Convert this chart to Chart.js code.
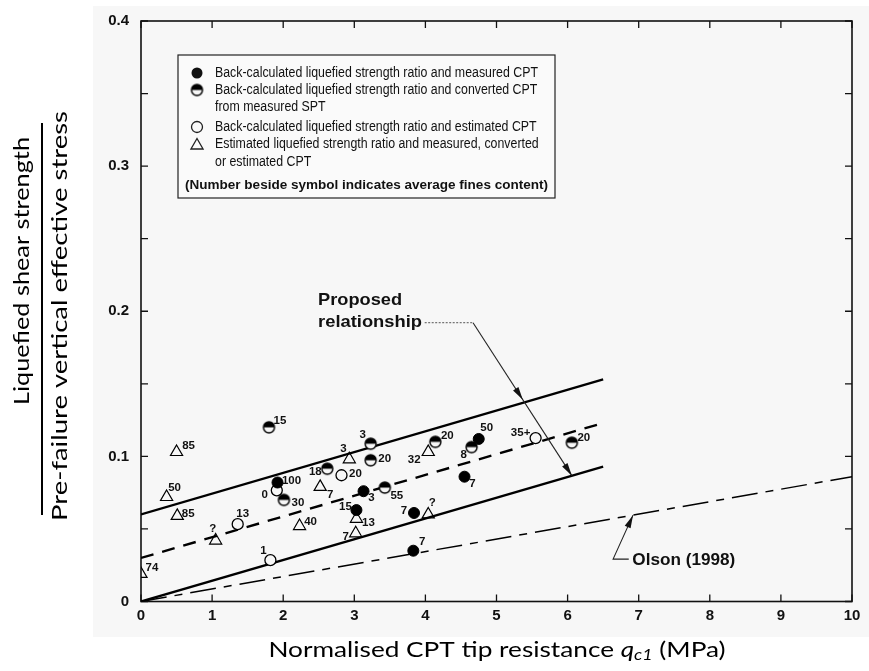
<!DOCTYPE html>
<html>
<head>
<meta charset="utf-8">
<script src="https://cdn.jsdelivr.net/npm/chart.js@4.4.1/dist/chart.umd.min.js"></script>
<style>
html,body{margin:0;padding:0;background:#fff;}
#wrap{width:869px;height:671px;position:relative;}
</style>
</head>
<body>
<div id="wrap"><canvas id="c" width="869" height="671"></canvas></div>
<script>
// ---------------- DATA ----------------
// Back-calculated liquefied strength ratio and measured CPT (filled circles)
const filledX = [1.92, 3.13, 3.03, 3.84, 3.83, 4.55, 4.75];
const filledY = [0.082, 0.076, 0.063, 0.061, 0.035, 0.086, 0.112];
const filledFines = ['100', '3', '15', '7', '7', '7', '50'];

// Back-calculated ratio and converted CPT from measured SPT (half-filled circles)
const halfX = [1.80, 2.01, 2.62, 3.23, 3.23, 3.43, 4.14, 4.65, 6.06];
const halfY = [0.120, 0.070, 0.0915, 0.1087, 0.0973, 0.0785, 0.110, 0.1064, 0.1094];
const halfFines = ['15', '30', '18', '3', '20', '55', '20', '8', '20'];

// Back-calculated ratio and estimated CPT (open circles)
const openX = [1.91, 2.82, 1.36, 1.82, 5.55];
const openY = [0.0766, 0.087, 0.0533, 0.0285, 0.1126];
const openFines = ['0', '20', '13', '1', '35+'];

// Estimated ratio and measured, converted or estimated CPT (open triangles)
const triX = [0.00, 0.36, 0.50, 0.51, 1.05, 2.52, 2.23, 2.93, 3.03, 3.02, 4.04, 4.04];
const triY = [0.019, 0.072, 0.103, 0.059, 0.042, 0.079, 0.052, 0.098, 0.057, 0.047, 0.103, 0.060];
const triFines = ['74', '50', '85', '85', '?', '7', '40', '3', '13', '7', '32', '?'];

// Proposed relationship (mean and bounds) and Olson (1998)
const relX = [0, 6.5];
const relUpperY = [0.06, 0.153];
const relMeanY = [0.03, 0.123];
const relLowerY = [0.0, 0.093];
const olsonX = [0, 10];
const olsonY = [0, 0.086];

// Axis ticks
const xTickValues = [0, 1, 2, 3, 4, 5, 6, 7, 8, 9, 10];
const yTickValues = [0, 0.05, 0.1, 0.15, 0.2, 0.25, 0.3, 0.35, 0.4];
const yTickLabels = ['0', '', '0.1', '', '0.2', '', '0.3', '', '0.4'];

// Texts
const xTitleParts = ['Normalised CPT tip resistance ', 'q', 'c1', ' (MPa)'];
const yTitleTop = 'Liquefied shear strength';
const yTitleBottom = 'Pre-failure vertical effective stress';
const legendLines = [
  'Back-calculated liquefied strength ratio and measured CPT',
  'Back-calculated liquefied strength ratio and converted CPT',
  'from measured SPT',
  'Back-calculated liquefied strength ratio and estimated CPT',
  'Estimated liquefied strength ratio and measured, converted',
  'or estimated CPT'
];
const legendNote = '(Number beside symbol indicates average fines content)';
const proposedText = ['Proposed', 'relationship'];
const olsonText = 'Olson (1998)';

// ---------------- STYLE / LAYOUT ----------------
const BG = '#f7f7f7';
const INK = '#111';
// label offsets (px) relative to each marker
const filledOff = [[14,-2],[8,7],[-11,-3],[-10,-2],[9,-9],[8,7],[8,-11]];
const halfOff = [[11,-7],[14,3],[-12,3],[-8,-9],[14,-1],[12,8],[12,-6],[-8,8],[12,-5]];
const openOff = [[-12,4],[14,-1],[5,-10],[-7,-9],[-15,-5]];
const triOff = [[11,-6],[8,-9],[12,-6],[11,-2],[-3,-12],[10,8],[11,-4],[-6,-10],[12,4],[-10,4],[-14,8],[4,-12]];

const R = 5.5;
function halfCircleImage(r) {
  const c = document.createElement('canvas');
  const s = Math.ceil(2 * r + 4);
  c.width = s; c.height = s;
  const g = c.getContext('2d');
  const cx = s / 2, cy = s / 2;
  g.beginPath(); g.arc(cx, cy, r, 0, 2 * Math.PI); g.fillStyle = BG; g.fill();
  g.beginPath(); g.arc(cx, cy, r, Math.PI, 2 * Math.PI); g.closePath(); g.fillStyle = '#000'; g.fill();
  g.beginPath(); g.arc(cx, cy, r, 0, 2 * Math.PI); g.lineWidth = 1.4; g.strokeStyle = '#000'; g.stroke();
  return c;
}
const halfImg = halfCircleImage(R);

const toPts = (xs, ys) => xs.map((x, i) => ({x: x, y: ys[i]}));

// ---------------- PLUGINS ----------------
const bgPlugin = {
  id: 'bg',
  beforeDraw(chart) {
    const ctx = chart.ctx;
    ctx.save();
    ctx.fillStyle = '#fff'; ctx.fillRect(0, 0, chart.width, chart.height);
    ctx.fillStyle = BG; ctx.fillRect(93, 6, chart.width - 93, 631);
    ctx.restore();
  }
};

function arrowHead(ctx, x1, y1, x2, y2, len, half) {
  const a = Math.atan2(y2 - y1, x2 - x1);
  ctx.beginPath();
  ctx.moveTo(x2, y2);
  ctx.lineTo(x2 - len * Math.cos(a) + half * Math.sin(a), y2 - len * Math.sin(a) - half * Math.cos(a));
  ctx.lineTo(x2 - len * Math.cos(a) - half * Math.sin(a), y2 - len * Math.sin(a) + half * Math.cos(a));
  ctx.closePath(); ctx.fill();
}

function fitText(ctx, text, x, y, font, targetW, align) {
  ctx.font = font;
  const w = ctx.measureText(text).width;
  const sx = targetW / w;
  ctx.save();
  ctx.translate(x, y);
  ctx.scale(sx, 1);
  ctx.textAlign = 'left';
  const x0 = align === 'center' ? -w / 2 : 0;
  ctx.fillText(text, x0, 0);
  ctx.restore();
}

const framePlugin = {
  id: 'frame',
  beforeDatasetsDraw(chart) {
    const ctx = chart.ctx, a = chart.chartArea;
    const xs = chart.scales.x, ys = chart.scales.y;
    ctx.save();
    ctx.strokeStyle = INK; ctx.lineWidth = 1.6;
    ctx.strokeRect(a.left, a.top, a.right - a.left, a.bottom - a.top);
    ctx.lineWidth = 1.3;
    ctx.beginPath();
    xTickValues.forEach(v => {
      const px = xs.getPixelForValue(v);
      ctx.moveTo(px, a.bottom); ctx.lineTo(px, a.bottom - 7);
      ctx.moveTo(px, a.top); ctx.lineTo(px, a.top + 7);
    });
    yTickValues.forEach(v => {
      const py = ys.getPixelForValue(v);
      ctx.moveTo(a.left, py); ctx.lineTo(a.left + 7, py);
      ctx.moveTo(a.right, py); ctx.lineTo(a.right - 7, py);
    });
    ctx.stroke();
    ctx.restore();
  },
  afterDraw(chart) {
    const ctx = chart.ctx;
    const xs = chart.scales.x, ys = chart.scales.y;
    const X = v => xs.getPixelForValue(v), Y = v => ys.getPixelForValue(v);
    ctx.save();
    ctx.fillStyle = INK; ctx.strokeStyle = INK;

    // ---- Legend box ----
    ctx.fillStyle = '#fafafa';
    ctx.fillRect(178, 55, 377, 143);
    ctx.lineWidth = 1.2; ctx.strokeStyle = '#222';
    ctx.strokeRect(178, 55, 377, 143);
    ctx.fillStyle = INK;
    const rows = [73, 90, 107, 127, 144, 162];
    ctx.textBaseline = 'middle';
    ctx.font = '14px "Liberation Sans", Arial, sans-serif';
    const sx = 323 / ctx.measureText(legendLines[0]).width;
    legendLines.forEach((t, i) => {
      ctx.save(); ctx.translate(215, rows[i]); ctx.scale(sx, 1); ctx.fillText(t, 0, 0); ctx.restore();
    });
    // symbols
    const symX = 197;
    ctx.beginPath(); ctx.arc(symX, rows[0], R, 0, 2 * Math.PI); ctx.fill();
    ctx.drawImage(halfImg, symX - halfImg.width / 2, rows[1] - halfImg.height / 2);
    ctx.beginPath(); ctx.arc(symX, rows[3], R, 0, 2 * Math.PI); ctx.lineWidth = 1.3; ctx.stroke();
    ctx.beginPath();
    const tr = 7, ty = rows[4] + 1.5;
    ctx.moveTo(symX, ty - tr); ctx.lineTo(symX + tr * 0.866, ty + tr / 2); ctx.lineTo(symX - tr * 0.866, ty + tr / 2); ctx.closePath(); ctx.stroke();
    // note
    fitText(ctx, legendNote, 185, 186, 'bold 12.5px "Liberation Sans", Arial, sans-serif', 363, 'left');

    // ---- Proposed relationship annotation ----
    ctx.textBaseline = 'middle';
    fitText(ctx, proposedText[0], X(2.49), Y(0.2072), 'bold 17px "Liberation Sans", Arial, sans-serif', 84, 'left');
    fitText(ctx, proposedText[1], X(2.49), Y(0.1921), 'bold 17px "Liberation Sans", Arial, sans-serif', 104, 'left');
    // dotted leader
    ctx.save();
    ctx.strokeStyle = '#555'; ctx.lineWidth = 1; ctx.setLineDash([2, 1.5]);
    ctx.beginPath(); ctx.moveTo(X(3.99), Y(0.1921)); ctx.lineTo(X(4.67), Y(0.1921)); ctx.stroke();
    ctx.restore();
    // arrow line
    const ax0 = X(4.67), ay0 = Y(0.1921);
    const ax2 = X(6.06), ay2 = Y(relLowerY[0] + (relLowerY[1] - relLowerY[0]) * 6.06 / 6.5);
    const t1 = (X(5.37) - ax0) / (ax2 - ax0);
    const ax1 = X(5.37), ay1 = ay0 + t1 * (ay2 - ay0);
    ctx.lineWidth = 1.1;
    ctx.beginPath(); ctx.moveTo(ax0, ay0); ctx.lineTo(ax2, ay2); ctx.stroke();
    arrowHead(ctx, ax0, ay0, ax1, ay1, 13, 3.2);
    arrowHead(ctx, ax0, ay0, ax2, ay2, 13, 3.2);

    // ---- Olson annotation ----
    fitText(ctx, olsonText, X(6.91), Y(0.0285), 'bold 16px "Liberation Sans", Arial, sans-serif', 103, 'left');
    const ox0 = X(6.64), oy0 = Y(0.0292);
    const otx = X(6.92), oty = Y(olsonY[1] * 6.92 / 10);
    ctx.lineWidth = 1.1;
    ctx.beginPath(); ctx.moveTo(X(6.86), oy0); ctx.lineTo(ox0, oy0); ctx.lineTo(otx, oty); ctx.stroke();
    arrowHead(ctx, ox0, oy0, otx, oty, 13, 3.2);

    // ---- Axis titles ----
    ctx.fillStyle = '#000';
    const fam = 'Lato, "Open Sans", sans-serif';
    const fN = '22px ' + fam, fI = 'italic 22px ' + fam, fS = 'italic 15px ' + fam;
    ctx.font = fN; const w0 = ctx.measureText(xTitleParts[0]).width, w3 = ctx.measureText(xTitleParts[3]).width;
    ctx.font = fI; const w1 = ctx.measureText(xTitleParts[1]).width;
    ctx.font = fS; const w2 = ctx.measureText(xTitleParts[2]).width;
    const total = w0 + w1 + w2 + w3;
    const xs2 = 457 / total;
    ctx.save();
    ctx.translate(497 - 457 / 2, 650);
    ctx.scale(xs2, 1);
    ctx.textBaseline = 'middle';
    ctx.font = fN; ctx.fillText(xTitleParts[0], 0, 0);
    ctx.font = fI; ctx.fillText(xTitleParts[1], w0, 0);
    ctx.font = fS; ctx.fillText(xTitleParts[2], w0 + w1, 5);
    ctx.font = fN; ctx.fillText(xTitleParts[3], w0 + w1 + w2, 0);
    ctx.restore();
    // y title (fraction)
    ctx.save();
    ctx.translate(22, 271); ctx.rotate(-Math.PI / 2);
    fitText(ctx, yTitleTop, 0, 0, '22px ' + fam, 268, 'center');
    ctx.restore();
    ctx.save();
    ctx.translate(60, 316); ctx.rotate(-Math.PI / 2);
    fitText(ctx, yTitleBottom, 0, 0, '22px ' + fam, 410, 'center');
    ctx.restore();
    ctx.lineWidth = 2; ctx.strokeStyle = '#000';
    ctx.beginPath(); ctx.moveTo(42, 123); ctx.lineTo(42, 515); ctx.stroke();

    ctx.restore();
  }
};

const labelPlugin = {
  id: 'pointLabels',
  afterDatasetsDraw(chart) {
    const ctx = chart.ctx;
    ctx.save();
    ctx.font = 'bold 11.5px "Liberation Sans Narrow", "Liberation Sans", Arial, sans-serif';
    ctx.fillStyle = INK; ctx.textAlign = 'center'; ctx.textBaseline = 'middle';
    chart.data.datasets.forEach((ds, i) => {
      if (!ds.fines) return;
      const meta = chart.getDatasetMeta(i);
      meta.data.forEach((el, j) => {
        const o = ds.offsets[j];
        ctx.fillText(ds.fines[j], el.x + o[0], el.y + o[1]);
      });
    });
    ctx.restore();
  }
};

// ---------------- CHART ----------------
const tickFont = {family: '"Liberation Sans", Arial, sans-serif', size: 15, weight: 'bold'};

new Chart(document.getElementById('c'), {
  type: 'scatter',
  data: {
    datasets: [
      {label: 'Upper bound', data: toPts(relX, relUpperY), showLine: true, borderColor: '#000', borderWidth: 2.4, pointRadius: 0, order: 10},
      {label: 'Proposed relationship', data: toPts(relX, relMeanY), showLine: true, borderColor: '#000', borderWidth: 2.4, borderDash: [13, 9], pointRadius: 0, order: 10},
      {label: 'Lower bound', data: toPts(relX, relLowerY), showLine: true, borderColor: '#000', borderWidth: 2.4, pointRadius: 0, order: 10},
      {label: 'Olson (1998)', data: toPts(olsonX, olsonY), showLine: true, borderColor: '#000', borderWidth: 1.5, borderDash: [26, 8, 8, 8], pointRadius: 0, order: 10},
      {label: 'Measured CPT', data: toPts(filledX, filledY), pointStyle: 'circle', pointRadius: R, backgroundColor: '#000', borderColor: '#000', borderWidth: 1, fines: filledFines, offsets: filledOff, order: 1},
      {label: 'Converted CPT', data: toPts(halfX, halfY), pointStyle: halfImg, pointRadius: R, fines: halfFines, offsets: halfOff, order: 1},
      {label: 'Estimated CPT', data: toPts(openX, openY), pointStyle: 'circle', pointRadius: R, backgroundColor: BG, borderColor: '#000', borderWidth: 1.3, fines: openFines, offsets: openOff, order: 1},
      {label: 'Estimated ratio', data: toPts(triX, triY), pointStyle: 'triangle', pointRadius: 7, backgroundColor: 'rgba(0,0,0,0)', borderColor: '#000', borderWidth: 1.2, fines: triFines, offsets: triOff, order: 1}
    ]
  },
  options: {
    responsive: false,
    animation: false,
    layout: {padding: {left: 0, right: 17, top: 19, bottom: 0}},
    plugins: {legend: {display: false}, tooltip: {enabled: false}},
    scales: {
      x: {
        type: 'linear', min: 0, max: 10,
        afterBuildTicks: s => { s.ticks = xTickValues.map(v => ({value: v})); },
        afterFit: s => { s.height = 69.5; },
        grid: {display: false, drawTicks: false},
        border: {display: false},
        ticks: {font: tickFont, color: INK, padding: 5, maxRotation: 0, autoSkip: false, callback: v => String(v)}
      },
      y: {
        type: 'linear', min: 0, max: 0.4,
        afterBuildTicks: s => { s.ticks = yTickValues.map(v => ({value: v})); },
        afterFit: s => { s.width = 141; },
        grid: {display: false, drawTicks: false},
        border: {display: false},
        ticks: {font: tickFont, color: INK, padding: 12, autoSkip: false,
          callback: (v, i) => yTickLabels[i]}
      }
    }
  },
  plugins: [bgPlugin, framePlugin, labelPlugin]
});
</script>
</body>
</html>
